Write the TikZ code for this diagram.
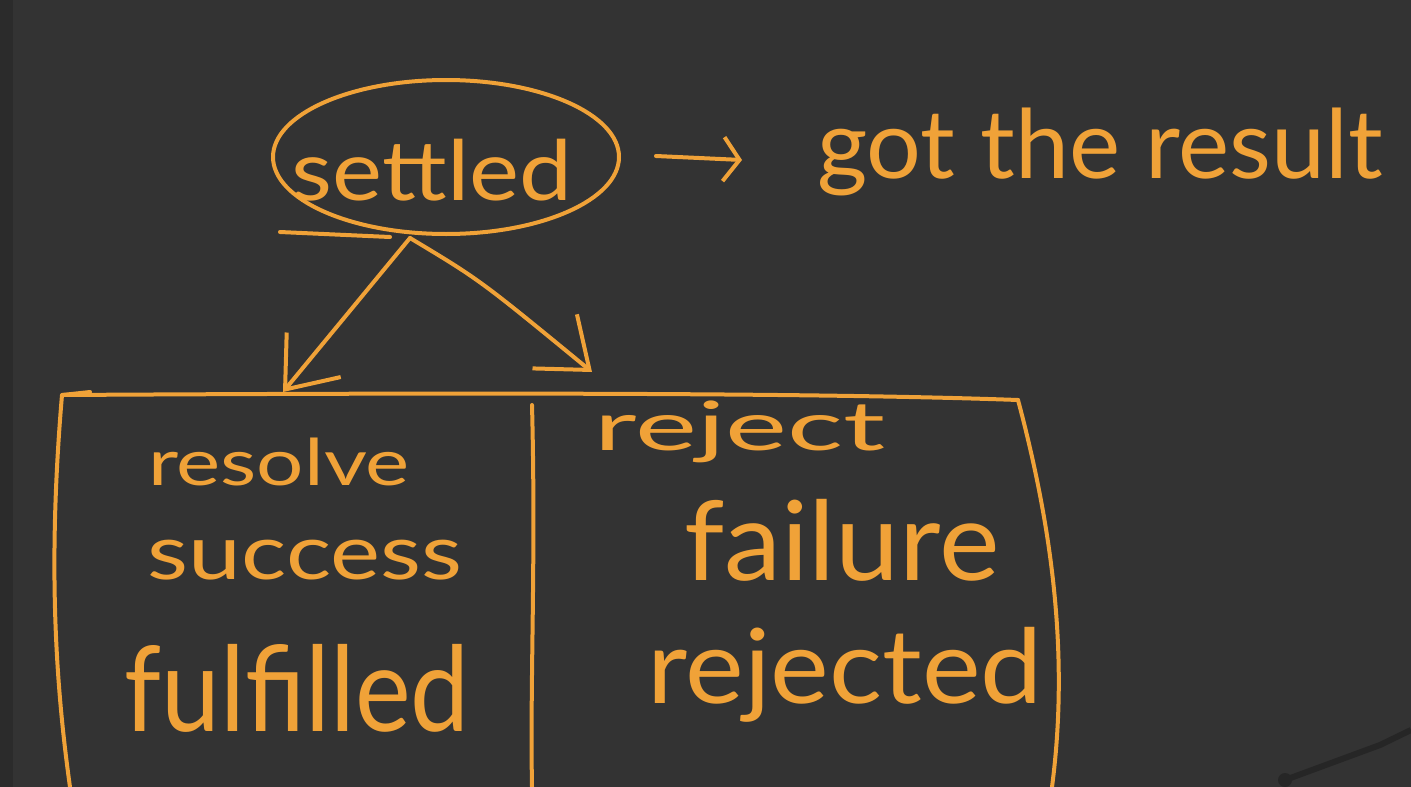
\documentclass[tikz,border=0pt]{standalone}
\usepackage{fontspec}
\setmainfont{Lato}
\usetikzlibrary{shapes.geometric,arrows.meta}
\definecolor{bg}{HTML}{333333}
\definecolor{strip}{HTML}{2B2B2B}
\definecolor{ink}{HTML}{F0A238}
\newcommand{\hw}[3]{\resizebox*{#1pt}{#2pt}{#3}}
\tikzset{
  pen/.style={draw=ink, line width=4pt, line cap=round, line join=round},
  hand/.style={text=ink, inner sep=0pt, anchor=center},
  tip/.style={-{Straight Barb[length=45pt,width=70pt,line width=4pt]}}
}
\begin{document}
\begin{tikzpicture}[x=1pt,y=-1pt]
\fill[bg] (0,0) rectangle (1411,787);
\fill[strip] (0,0) rectangle (13,787);
\useasboundingbox (0,0) rectangle (1411,787);

% settled ellipse
\node[pen, ellipse, minimum width=346pt, minimum height=154pt] (settled) at (446,157) {};
\node[hand] (settledtxt) at (432,170) {\hw{280}{62}{settled}};
\coordinate (ul1) at (280,232);
\coordinate (ul2) at (390,237);
\draw[pen] (ul1) -- (ul2);

% arrow to "got the result"
\coordinate (ga) at (656,156);
\coordinate (gb) at (742,160);
\draw[pen, -{Straight Barb[length=16pt,width=44pt,line width=4pt]}] (ga) -- (gb);
\node[hand] (result) at (1100,152) {\hw{565}{88}{got the result}};

% branching arrows
\coordinate (apex) at (410,238);
\coordinate (lefttip) at (283,392);
\coordinate (righttip) at (592,372);
\draw[pen, tip] (apex) -- (lefttip);
\draw[pen, tip] (apex) .. controls (480,280) .. (righttip);

% box
\coordinate (tl) at (62,395);
\coordinate (tr) at (1018,400);
\coordinate (bl) at (70,787);
\coordinate (br) at (1052,787);
\coordinate (mt) at (532,405);
\coordinate (mb) at (532,787);
\draw[pen] (tl) .. controls (400,393) and (800,392) .. (tr);
\draw[pen] (90,392) -- (tl) .. controls (48,560) and (55,680) .. (bl);
\draw[pen] (tr) .. controls (1050,520) and (1070,650) .. (br);
\draw[pen] (mt) .. controls (536,560) and (530,680) .. (mb);

% left column
\node[hand] (resolve) at (279,462) {\hw{262}{48}{resolve}};
\node[hand] (success) at (305,560) {\hw{314}{40}{success}};
\node[hand] (fulfilled) at (297,688) {\hw{345}{88}{fulfilled}};

% right column
\node[hand] (reject) at (740,432) {\hw{290}{62}{reject}};
\node[hand] (failure) at (842,540) {\hw{315}{82}{failure}};
\node[hand] (rejected) at (845,675) {\hw{395}{95}{rejected}};

% stand in the corner
\draw[line width=6pt, draw=black!85] (1285,780) -- (1380,745) -- (1411,730);
\fill[black!85] (1285,780) circle (7pt);
\end{tikzpicture}
\end{document}
